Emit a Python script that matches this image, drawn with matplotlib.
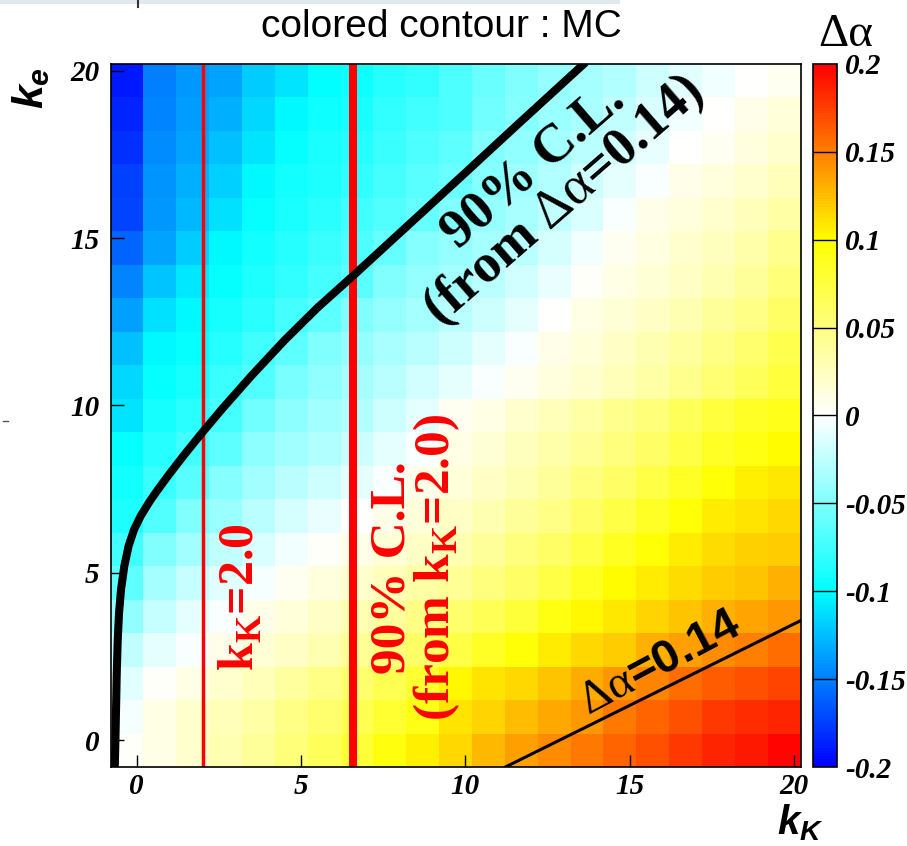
import numpy as np
import matplotlib
matplotlib.use('Agg')
import matplotlib.pyplot as plt
from matplotlib.colors import LinearSegmentedColormap
from matplotlib.font_manager import FontProperties

plt.rcParams['mathtext.fontset'] = 'custom'
plt.rcParams['mathtext.rm'] = 'Liberation Serif'
plt.rcParams['mathtext.bf'] = 'Liberation Serif:bold'
plt.rcParams['mathtext.it'] = 'Liberation Sans:italic:bold'

# Delta alpha per cell, rows from ke=20 (top) down to ke=0 (bottom), columns kK=0..20
dalpha_rows = [
    [-0.19, -0.15, -0.14, -0.135, -0.12, -0.11, -0.10, -0.095, -0.085, -0.08, -0.07, -0.058, -0.05, -0.042, -0.035, -0.03, -0.02, -0.012, -0.005, 0.0, 0.005],
    [-0.185, -0.148, -0.138, -0.13, -0.115, -0.102, -0.095, -0.09, -0.08, -0.075, -0.07, -0.055, -0.048, -0.04, -0.033, -0.025, -0.015, -0.005, 0.0, 0.008, 0.015],
    [-0.18, -0.145, -0.135, -0.125, -0.11, -0.098, -0.09, -0.085, -0.078, -0.07, -0.063, -0.05, -0.043, -0.035, -0.027, -0.018, -0.008, 0.0, 0.006, 0.013, 0.02],
    [-0.175, -0.142, -0.13, -0.118, -0.103, -0.093, -0.088, -0.08, -0.073, -0.065, -0.058, -0.047, -0.038, -0.03, -0.02, -0.01, -0.002, 0.008, 0.013, 0.02, 0.028],
    [-0.172, -0.14, -0.127, -0.112, -0.098, -0.09, -0.083, -0.075, -0.068, -0.06, -0.05, -0.042, -0.033, -0.025, -0.015, -0.003, 0.008, 0.013, 0.02, 0.028, 0.035],
    [-0.16, -0.135, -0.12, -0.103, -0.093, -0.085, -0.078, -0.07, -0.06, -0.048, -0.042, -0.035, -0.027, -0.017, -0.005, 0.005, 0.012, 0.02, 0.025, 0.033, 0.045],
    [-0.148, -0.122, -0.108, -0.097, -0.088, -0.08, -0.073, -0.065, -0.05, -0.042, -0.035, -0.028, -0.018, -0.008, 0.003, 0.01, 0.017, 0.023, 0.03, 0.04, 0.052],
    [-0.137, -0.112, -0.102, -0.092, -0.083, -0.073, -0.063, -0.05, -0.042, -0.035, -0.028, -0.02, -0.01, 0.0, 0.01, 0.017, 0.023, 0.03, 0.04, 0.048, 0.06],
    [-0.125, -0.102, -0.097, -0.085, -0.075, -0.063, -0.05, -0.042, -0.033, -0.027, -0.02, -0.01, -0.002, 0.008, 0.015, 0.022, 0.03, 0.038, 0.047, 0.057, 0.07],
    [-0.115, -0.098, -0.092, -0.078, -0.068, -0.053, -0.043, -0.035, -0.027, -0.018, -0.01, -0.002, 0.005, 0.013, 0.02, 0.028, 0.035, 0.045, 0.055, 0.065, 0.075],
    [-0.11, -0.092, -0.083, -0.073, -0.055, -0.045, -0.037, -0.03, -0.02, -0.01, 0.005, 0.01, 0.02, 0.028, 0.035, 0.045, 0.052, 0.065, 0.075, 0.085, 0.09],
    [-0.098, -0.085, -0.075, -0.063, -0.045, -0.037, -0.03, -0.02, -0.01, -0.002, 0.01, 0.017, 0.025, 0.033, 0.042, 0.05, 0.06, 0.072, 0.085, 0.093, 0.1],
    [-0.093, -0.078, -0.065, -0.048, -0.037, -0.028, -0.02, -0.01, -0.002, 0.008, 0.015, 0.022, 0.03, 0.04, 0.05, 0.06, 0.072, 0.085, 0.097, 0.105, 0.108],
    [-0.088, -0.068, -0.05, -0.04, -0.028, -0.017, -0.008, 0.0, 0.008, 0.015, 0.022, 0.03, 0.04, 0.048, 0.06, 0.072, 0.085, 0.097, 0.107, 0.11, 0.115],
    [-0.075, -0.05, -0.037, -0.025, -0.015, -0.006, 0.003, 0.01, 0.017, 0.023, 0.03, 0.04, 0.05, 0.06, 0.072, 0.087, 0.098, 0.107, 0.113, 0.118, 0.12],
    [-0.063, -0.035, -0.023, -0.012, -0.004, 0.005, 0.013, 0.02, 0.028, 0.035, 0.042, 0.05, 0.06, 0.072, 0.087, 0.1, 0.107, 0.113, 0.12, 0.123, 0.13],
    [-0.043, -0.023, -0.01, -0.002, 0.008, 0.015, 0.022, 0.03, 0.038, 0.048, 0.057, 0.067, 0.078, 0.093, 0.102, 0.108, 0.117, 0.123, 0.13, 0.135, 0.14],
    [-0.025, -0.01, -0.002, 0.008, 0.017, 0.023, 0.03, 0.042, 0.05, 0.06, 0.072, 0.085, 0.098, 0.107, 0.115, 0.12, 0.13, 0.137, 0.145, 0.15, 0.157],
    [-0.012, 0.003, 0.01, 0.02, 0.028, 0.038, 0.047, 0.057, 0.068, 0.08, 0.102, 0.11, 0.115, 0.123, 0.132, 0.14, 0.147, 0.157, 0.163, 0.168, 0.172],
    [-0.004, 0.01, 0.02, 0.028, 0.035, 0.047, 0.057, 0.068, 0.08, 0.092, 0.11, 0.117, 0.125, 0.133, 0.14, 0.153, 0.16, 0.168, 0.177, 0.182, 0.185],
    [0.003, 0.01, 0.02, 0.03, 0.04, 0.052, 0.065, 0.078, 0.095, 0.105, 0.115, 0.127, 0.137, 0.145, 0.153, 0.16, 0.168, 0.177, 0.185, 0.19, 0.197],
]

# bins: 21 x 21, width 1, from -0.8 to 20.2
kK_edges = np.arange(-0.8, 20.21, 1.0)
ke_edges = np.arange(-0.8, 20.21, 1.0)

# 90% C.L. contour (from delta alpha = 0.14)
cl_kK = [-0.67, -0.65, -0.63, -0.61, -0.58, -0.54, -0.48, -0.38, -0.25, -0.08, 0.12, 0.37, 0.63, 0.99, 1.44, 2.0, 2.6,
         3.5, 4.5, 5.5, 6.59, 8.1, 9.7, 11.6, 13.66]
cl_ke = [-0.8, 0.0, 1.0, 2.0, 3.0, 3.8, 4.5, 5.2, 5.8, 6.3, 6.7, 7.1, 7.47, 7.95, 8.52, 9.2, 9.9,
         10.9, 11.95, 12.92, 13.88, 15.24, 16.68, 18.4, 20.25]

# delta alpha = 0.14 line
d014_kK = [11.22, 20.2]
d014_ke = [-0.8, 3.57]

kK_lines = [2.0, 6.57]

cbar_ticks = [-0.2, -0.15, -0.1, -0.05, 0.0, 0.05, 0.1, 0.15, 0.2]
cbar_labels = ['-0.2', '-0.15', '-0.1', '-0.05', '0', '0.05', '0.1', '0.15', '0.2']
axis_ticks = [0, 5, 10, 15, 20]

cmap = LinearSegmentedColormap.from_list('root', [(0, 0, 1), (0, 1, 1), (1, 1, 1), (1, 1, 0), (1, 0, 0)])

W, H = 907, 846
fig = plt.figure(figsize=(W / 100, H / 100), dpi=100)

ax = fig.add_axes([110.5 / W, (H - 767) / H, 690 / W, 703 / H])
mesh = ax.pcolormesh(kK_edges, ke_edges, np.array(dalpha_rows[::-1]), cmap=cmap, vmin=-0.2, vmax=0.2)
ax.set_xlim(-0.8, 20.2)
ax.set_ylim(-0.8, 20.2)

tickfont = dict(family='Liberation Serif', weight='bold', style='italic', size=21)
ax.set_xticks(axis_ticks)
ax.set_yticks(axis_ticks)
ax.set_xticklabels([str(t) for t in axis_ticks], fontdict=tickfont)
ax.set_yticklabels([str(t) for t in axis_ticks], fontdict=tickfont)
ax.tick_params(direction='in', length=9, width=1, top=False, right=False)
ax.tick_params(axis='x', pad=4)
ax.tick_params(axis='y', pad=8)
for s in ax.spines.values():
    s.set_linewidth(1.2)

# lines
ax.axvline(kK_lines[0], color='red', lw=2.5)
ax.axvline(kK_lines[1], color='red', lw=5.8)
ax.plot(cl_kK, cl_ke, color='black', lw=5.8, solid_capstyle='butt', solid_joinstyle='round')
ax.plot(d014_kK, d014_ke, color='black', lw=2.2)

# labels on plot
ax.text(12.55, 16.6, '90% C.L.\n(from $\\mathrm{\\Delta\\alpha}$=0.14)', rotation=41,
        ha='center', va='center', multialignment='center', linespacing=0.85,
        family='Liberation Serif', weight='bold', size=39, color='black',
        rotation_mode='anchor')
ax.text(3.19, 4.29, 'k$_\\mathbf{K}$=2.0', rotation=90, ha='center', va='center',
        family='Liberation Serif', weight='bold', size=36, color='red', rotation_mode='anchor')
ax.text(8.5, 5.15, '90% C.L.\n(from k$_\\mathbf{K}$=2.0)', rotation=90, ha='center', va='center',
        multialignment='center', linespacing=0.88,
        family='Liberation Serif', weight='bold', size=37, color='red', rotation_mode='anchor')
ax.text(15.94, 2.31, '$\\mathrm{\\Delta\\alpha}$=0.14', rotation=28, ha='center', va='center',
        family='Liberation Sans', weight='bold', size=34, color='black', rotation_mode='anchor')

# colour bar
cax = fig.add_axes([813 / W, (H - 767) / H, 24 / W, 703 / H])
cb = fig.colorbar(mesh, cax=cax)
cb.set_ticks(cbar_ticks)
cb.set_ticklabels(cbar_labels)
cb.outline.set_linewidth(1.2)
cax.tick_params(length=0, pad=6)
for lab in cax.get_yticklabels():
    lab.set_fontproperties(FontProperties(**tickfont))
for t in cbar_ticks[1:-1]:
    cax.axhline(t, color='black', lw=1)

# titles and axis labels
fig.text(441 / W, 1 - 27 / H, 'colored contour : MC', ha='center', va='center',
         family='Liberation Sans', size=28)
fig.text(846 / W, 1 - 35 / H, '\u0394\u03b1', ha='center', va='center',
         family='Liberation Serif', size=34)
fig.text(31 / W, 1 - 88 / H, '$k_{e}$', rotation=90, ha='center', va='center', size=31)
fig.text(800 / W, 1 - 843 / H, '$k_{K}$', ha='center', va='bottom', size=29)

# small marks left over at the picture's edges
fig.add_artist(plt.Rectangle((0, 1 - 4 / H), 620 / W, 4 / H, transform=fig.transFigure,
                             color='#dfe9ee', lw=0))
fig.add_artist(plt.Line2D([138 / W, 138 / W], [1, 1 - 7 / H], transform=fig.transFigure,
                          color='#333333', lw=1.5))
fig.add_artist(plt.Line2D([3 / W, 8 / W], [1 - 421 / H, 1 - 421 / H], transform=fig.transFigure,
                          color='#555555', lw=1))

fig.savefig('out.png', dpi=100)
